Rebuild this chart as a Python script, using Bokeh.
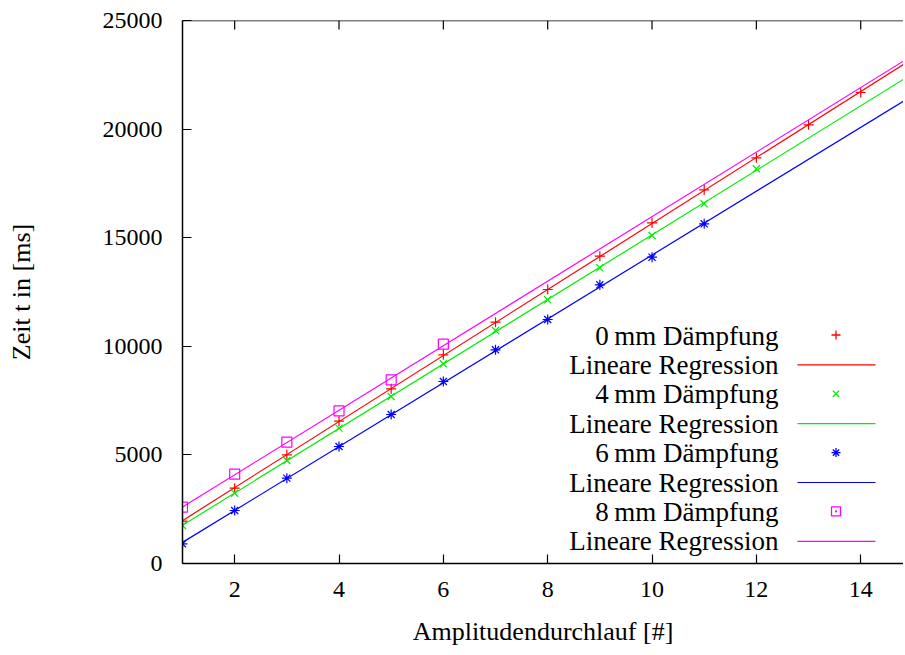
import numpy as np
from bokeh.plotting import figure
from bokeh.models import Range1d, FixedTicker, Label, Span, ColumnDataSource
from bokeh.embed import file_html
from bokeh.resources import INLINE

# ---------------- data ----------------
x_0mm = [1, 2, 3, 4, 5, 6, 7, 8, 9, 10, 11, 12, 13, 14]
t_0mm = [1948, 3467, 5004, 6552, 8042, 9607, 11110, 12615, 14149, 15685, 17205, 18678, 20198, 21685]
x_4mm = [1, 2, 3, 4, 5, 6, 7, 8, 9, 10, 11, 12]
t_4mm = [1750, 3237, 4742, 6231, 7689, 9194, 10727, 12140, 13614, 15101, 16561, 18172]
x_6mm = [1, 2, 3, 4, 5, 6, 7, 8, 9, 10, 11]
t_6mm = [906, 2440, 3929, 5387, 6860, 8379, 9838, 11234, 12831, 14102, 15640]
x_8mm = [1, 2, 3, 4, 5, 6]
t_8mm = [2592, 4112, 5585, 7030, 8457, 10097]

series_labels = ["0\u2009mm Dämpfung", "4\u2009mm Dämpfung", "6\u2009mm Dämpfung", "8\u2009mm Dämpfung"]
fit_label = "Lineare Regression"
x_ticks = [2, 4, 6, 8, 10, 12, 14]
y_ticks = [0, 5000, 10000, 15000, 20000, 25000]
fit_domain = [1, 15]

# ---------------- layout / style ----------------
FONT = "Liberation Serif"
colors = ["#ff0000", "#00ee00", "#0000ff", "#ff00ff"]
markers = ["cross", "x", "asterisk", "square"]
legend_markers = ["cross", "x", "asterisk", "square_dot"]

W, H = 903, 655
ML, MT, MB = 182, 20, 92
FW, FH = W - ML, H - MT - MB
PX_PER_X = 52.17

p = figure(width=W, height=H, output_backend="svg", toolbar_location=None,
           x_range=Range1d(1, 1 + FW / PX_PER_X), y_range=Range1d(0, 25000),
           min_border_left=ML, min_border_right=0, min_border_top=MT, min_border_bottom=MB,
           x_axis_label="Amplitudendurchlauf [#]", y_axis_label="Zeit t in [ms]")
p.extra_x_ranges = {"px": Range1d(0, FW)}
p.extra_y_ranges = {"py": Range1d(0, FH)}
p.background_fill_color = "white"
p.border_fill_color = "white"
p.outline_line_color = None
p.grid.visible = False

for ax in (p.xaxis[0], p.yaxis[0]):
    ax.major_tick_in = 9
    ax.major_tick_out = 0
    ax.minor_tick_in = 0
    ax.minor_tick_out = 0
    ax.axis_line_width = 1.5
    ax.major_tick_line_width = 1.2
    ax.major_label_text_font = FONT
    ax.major_label_text_font_size = "24px"
    ax.major_label_text_color = "black"
    ax.axis_label_text_font = FONT
    ax.axis_label_text_font_size = "26px"
    ax.axis_label_text_font_style = "normal"
    ax.axis_label_text_color = "black"

p.xaxis[0].ticker = FixedTicker(ticks=x_ticks)
p.yaxis[0].ticker = FixedTicker(ticks=y_ticks)
p.xaxis[0].major_label_standoff = 18
p.xaxis[0].axis_label_standoff = 17
p.yaxis[0].major_label_standoff = 20
p.yaxis[0].axis_label_standoff = 64

# top border with inward mirror ticks
p.add_layout(Span(location=25000, dimension="width", line_color="black", line_width=1.5))
p.segment(x0=x_ticks, x1=x_ticks, y0=[FH] * len(x_ticks), y1=[FH - 9] * len(x_ticks),
          y_range_name="py", line_color="black", line_width=1.2)

xs = [x_0mm, x_4mm, x_6mm, x_8mm]
ts = [t_0mm, t_4mm, t_6mm, t_8mm]

for xv, tv, c, m in zip(xs, ts, colors, markers):
    slope, icpt = np.polyfit(np.array(xv, float), np.array(tv, float), 1)
    fx = np.array(fit_domain, float)
    p.line(fx, slope * fx + icpt, line_color=c, line_width=1.2)
    p.scatter(xv, tv, marker=m, size=10, line_color=c, fill_color=None, line_width=1.2)

# ---------------- legend (label on the left, key on the right) ----------------
ROW0, STEP = 335, 29.4
TEXT_RIGHT = 778 - ML
KEY_X0, KEY_X1, KEY_XC = 797 - ML, 875 - ML, 835 - ML
texts = []
for lab in series_labels:
    texts += [lab, fit_label]

mk = dict(x=[], y=[], marker=[], color=[])
ln = dict(xs=[], ys=[], color=[])
for i, txt in enumerate(texts):
    yrow = (MT + FH) - (ROW0 + STEP * i)
    p.add_layout(Label(x=TEXT_RIGHT, y=yrow, x_units="screen", y_units="screen",
                       text=txt, text_align="right", text_baseline="middle",
                       text_font=FONT, text_font_size="27px", text_color="black"))
    c = colors[i // 2]
    if i % 2 == 0:
        mk["x"].append(KEY_XC + 0.5); mk["y"].append(yrow + 0.5)
        mk["marker"].append(legend_markers[i // 2]); mk["color"].append(c)
    else:
        ln["xs"].append([KEY_X0, KEY_X1]); ln["ys"].append([yrow, yrow]); ln["color"].append(c)

p.multi_line(xs="xs", ys="ys", line_color="color", line_width=1.2,
             source=ColumnDataSource(ln), x_range_name="px", y_range_name="py")
p.scatter(x="x", y="y", marker="marker", line_color="color", fill_color=None, size=9,
          line_width=1.3, source=ColumnDataSource(mk), x_range_name="px", y_range_name="py")

open("out.html", "w").write(file_html(p, INLINE))
